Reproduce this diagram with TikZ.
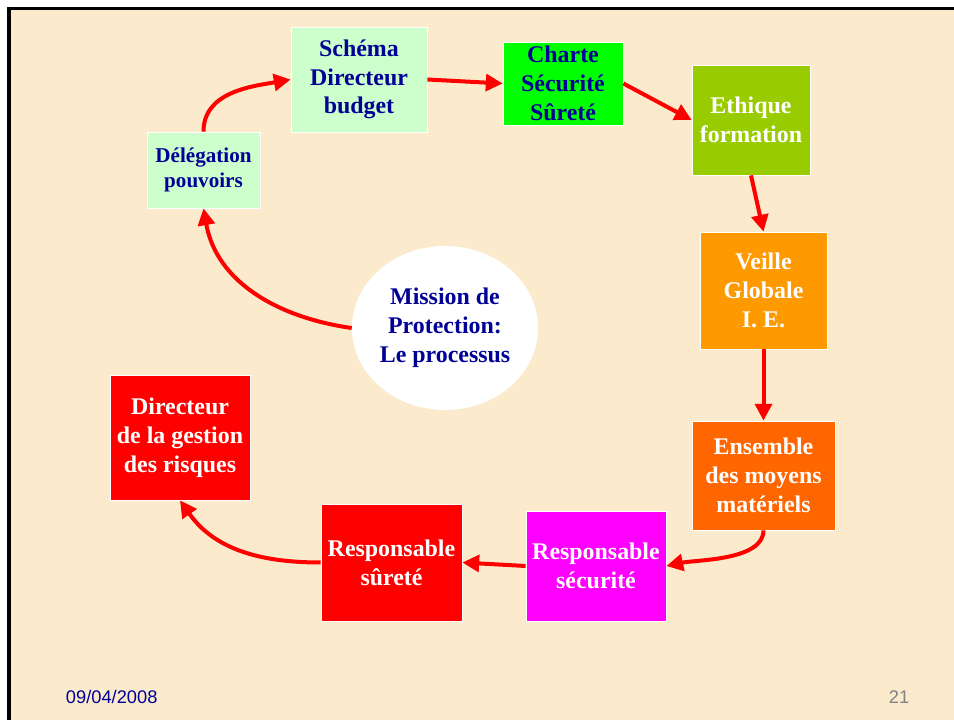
\documentclass[tikz,border=0pt]{standalone}
\usepackage{fontspec}
\setmainfont{Liberation Serif}
\setsansfont{Liberation Sans}
\usepackage{tikz}
\usetikzlibrary{shapes,arrows.meta,positioning}

\definecolor{parchment}{RGB}{251,235,204}
\definecolor{navytext}{RGB}{0,0,150}
\definecolor{paleg}{RGB}{204,255,204}
\definecolor{brightg}{RGB}{0,255,0}
\definecolor{oliveg}{RGB}{153,204,0}
\definecolor{amber}{RGB}{255,153,0}
\definecolor{deeporange}{RGB}{255,102,0}
\definecolor{magentabox}{RGB}{255,0,255}
\definecolor{redbox}{RGB}{255,0,0}

\begin{document}
\begin{tikzpicture}[
    x=0.025cm, y=-0.025cm,
    box/.style={draw=white, line width=0.5pt, inner sep=0pt, align=center,
        font=\bfseries\fontsize{17}{20.5}\selectfont},
    light/.style={box, fill=paleg, text=navytext},
    green/.style={box, fill=brightg, text=navytext},
    warm/.style={box, text=white},
    flow/.style={-{Triangle[length=0.42cm, width=0.42cm]}, draw=red, line width=0.1cm}
]
    \useasboundingbox (0,0) rectangle (954,720);

    % === SLIDE ===
    \fill[white] (0,0) rectangle (954,720);
    \fill[parchment] (9,8.5) rectangle (954,720);
    \draw[black, line width=0.075cm] (9,720) -- (9,8.5) -- (954,8.5);

    % === BOXES ===
    \node[light, minimum width=3.4cm, minimum height=2.625cm] (schema) at (359,79.5) {Schéma\\Directeur\\budget};
    \node[light, minimum width=2.825cm, minimum height=1.9cm,
        font=\bfseries\fontsize{15}{17.7}\selectfont] (deleg) at (203.5,170) {Délégation\\pouvoirs};
    \node[green, minimum width=3cm, minimum height=2.075cm] (charte) at (563,83.5) {Charte\\Sécurité\\Sûreté};
    \node[warm, fill=oliveg, minimum width=2.95cm, minimum height=2.75cm] (ethique) at (751,120) {Ethique\\formation};
    \node[warm, fill=amber, minimum width=3.175cm, minimum height=2.925cm] (veille) at (763.5,290.5) {Veille\\Globale\\I. E.};
    \node[warm, fill=deeporange, minimum width=3.575cm, minimum height=2.725cm] (ensemble) at (763.5,475.5) {Ensemble\\des moyens\\matériels};
    \node[warm, fill=magentabox, minimum width=3.5cm, minimum height=2.75cm] (respsec) at (596,566) {Responsable\\sécurité};
    \node[warm, fill=redbox, minimum width=3.525cm, minimum height=2.925cm] (respsur) at (391.5,562.5) {Responsable\\sûreté};
    \node[warm, fill=redbox, minimum width=3.5cm, minimum height=3.125cm] (directeur) at (180,437.5) {Directeur\\de la gestion\\des risques};

    % === CENTRE ===
    \node[ellipse, fill=white, inner sep=0pt, minimum width=4.65cm, minimum height=4.1cm,
        align=center, text=navytext, font=\bfseries\fontsize{17}{20.5}\selectfont] (mission) at (445,328) {Mission de\\Protection:\\Le processus};

    % === CYCLE ===
    \draw[flow] (deleg.north) to[out=90, in=190] (schema.west);
    \draw[flow] (schema.east) -- (charte.west);
    \draw[flow] (charte.east) -- (ethique.west);
    \draw[flow] (ethique.south) -- (veille.north);
    \draw[flow] (veille.south) -- (ensemble.north);
    \draw[flow] (ensemble.south) to[out=-90, in=12, looseness=0.75] (respsec.east);
    \draw[flow] (respsec.west) -- (respsur.east);
    \draw[flow] (respsur.west) to[out=180, in=-55] (directeur.south);
    \draw[flow] (mission.west) to[out=172, in=-80] (deleg.south);

    % Footer
    \node[anchor=west, text=navytext, font=\sffamily\fontsize{13}{15}\selectfont] (date) at (61,697) {09/04/2008};
    \node[text=gray, font=\sffamily\fontsize{13}{15}\selectfont] (page) at (899,697) {21};

\end{tikzpicture}
\end{document}
